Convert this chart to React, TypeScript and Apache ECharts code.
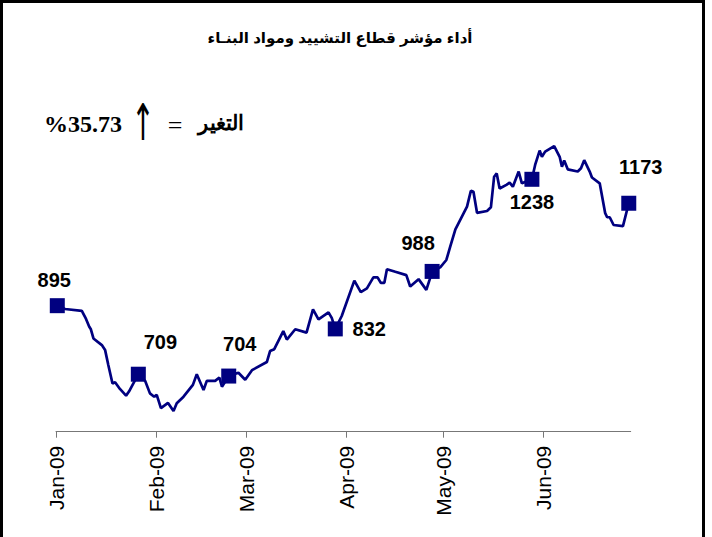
import React, { useEffect, useRef } from "react";
import * as echarts from "echarts";

// ---- data ----
const dayOffsets = [
  0.4, 2.8, 8.0, 9.3, 10.3, 10.8, 11.6, 14.2, 15.2, 16.2,
  17.5, 18.3, 19.8, 21.7, 22.6, 25.5, 27.6, 29.1, 30.4, 31.2,
  32.5, 34.7, 36.4, 37.4, 39.5, 42.4, 43.6, 45.7, 46.7, 49.3,
  50.6, 51.4, 53.5, 56.5, 58.6, 60.7, 65.3, 66.3, 67.6, 70.4,
  71.5, 74.1, 77.6, 79.6, 81.3, 84.4, 85.4, 86.5, 88.5, 92.4,
  94.4, 96.3, 98.3, 99.6, 100.6, 101.7, 102.5, 105.1, 108.5, 109.7,
  112.3, 114.7, 115.7, 116.5, 119.0, 120.9, 122.1, 123.7, 127.3, 128.5,
  129.3, 130.4, 133.5, 134.7, 135.7, 136.5, 137.4, 139.5, 140.5, 141.5,
  143.3, 144.3, 147.4, 148.4, 149.8, 150.5, 151.5, 154.3, 156.0, 156.7,
  157.4, 158.5, 161.6, 162.6, 163.6, 165.3, 166.0, 168.4, 170.1, 170.7,
  171.5, 172.7, 175.6, 177.4,
];
const indexValues = [
  895, 886, 881, 859, 838, 831, 806, 788, 775, 734,
  684, 687, 669, 651, 662, 709, 691, 657, 648, 653,
  617, 631, 609, 630, 648, 680, 709, 666, 691, 691,
  700, 675, 704, 713, 694, 720, 742, 772, 777, 826,
  803, 831, 822, 885, 858, 877, 862, 832, 867, 963,
  932, 942, 972, 972, 957, 957, 994, 987, 978, 947,
  967, 938, 965, 988, 999, 1019, 1055, 1102, 1164, 1207,
  1204, 1147, 1152, 1162, 1245, 1254, 1213, 1223, 1229, 1218,
  1259, 1227, 1238, 1277, 1316, 1299, 1313, 1328, 1299, 1272,
  1289, 1265, 1259, 1268, 1290, 1259, 1243, 1227, 1146, 1135,
  1135, 1114, 1111, 1173,
];
const markerDays = [0.4, 25.5, 53.5, 86.5, 116.5, 147.4, 177.4];
const markerValues = [895, 709, 704, 832, 988, 1238, 1173];
const monthStartDays = [0, 31, 59, 90, 120, 151];
const monthLabels = ["Jan-09", "Feb-09", "Mar-09", "Apr-09", "May-09", "Jun-09"];
const titleText = "أداء مؤشر قطاع التشييد ومواد البنـاء";
const changeLabel = "التغير";
const changeValue = "%35.73";

// ---- styling (label offsets relative to markers) ----
const labelOffsets = [
  [-3, -26],
  [22, -32],
  [11, -32],
  [34, 0],
  [-14, -28],
  [0, 23],
  [12, -36],
];

const NAVY = "#000080";

export default function App() {
  const ref = useRef<HTMLDivElement>(null);

  useEffect(() => {
    if (!ref.current) return;
    const chart = echarts.init(ref.current, undefined, { renderer: "svg" });

    const lineData = dayOffsets.map((d, i) => [d, indexValues[i]]);
    const markerData = markerDays.map((d, i) => ({
      value: [d, markerValues[i]],
      label: { offset: labelOffsets[i] },
    }));

    chart.setOption({
      animation: false,
      backgroundColor: "#ffffff",
      grid: {
        left: 56,
        right: 81.3,
        top: 119.6,
        bottom: 105.3,
        containLabel: false,
        outerBoundsMode: "none",
      },
      xAxis: {
        type: "value",
        min: 0,
        max: 178,
        splitLine: { show: false },
        axisLine: { show: true, lineStyle: { color: "#777777", width: 1 } },
        axisTick: {
          show: true,
          customValues: monthStartDays,
          length: 6,
          lineStyle: { color: "#777777", width: 1 },
        },
        axisLabel: {
          customValues: monthStartDays,
          rotate: 90,
          margin: 14,
          color: "#000000",
          fontSize: 21,
          fontFamily: "Liberation Sans, Arial, sans-serif",
          formatter: (v: number) => {
            const idx = monthStartDays.indexOf(Math.round(v));
            return idx >= 0 ? monthLabels[idx] : "";
          },
        },
      },
      yAxis: {
        type: "value",
        min: 553,
        max: 1400,
        show: false,
        splitLine: { show: false },
      },
      series: [
        {
          type: "line",
          data: lineData,
          symbol: "none",
          lineStyle: { color: NAVY, width: 2.7, opacity: 1 },
          itemStyle: { color: NAVY },
          silent: true,
          clip: false,
        },
        {
          type: "scatter",
          data: markerData,
          symbol: "rect",
          symbolSize: 15,
          itemStyle: { color: NAVY, opacity: 1 },
          clip: false,
          label: {
            show: true,
            position: "inside",
            align: "center",
            verticalAlign: "middle",
            color: "#000000",
            opacity: 1,
            fontSize: 20,
            fontWeight: "bold",
            fontFamily: "Liberation Sans, Arial, sans-serif",
            formatter: (p: any) => String(p.value[1]),
          },
        },
      ],
      graphic: [
        {
          type: "rect",
          shape: { x: 1.5, y: 1.5, width: 702, height: 560 },
          style: { fill: "none", stroke: "#000000", lineWidth: 3 },
          silent: true,
        },
        {
          type: "text",
          x: 340,
          y: 37,
          style: {
            text: titleText,
            align: "center",
            verticalAlign: "middle",
            fill: "#000000",
            font: "bold 15px 'Liberation Sans', 'DejaVu Sans', sans-serif",
          },
        },
        {
          type: "text",
          x: 83,
          y: 124,
          style: {
            text: changeValue,
            align: "center",
            verticalAlign: "middle",
            fill: "#000000",
            font: "bold 24px 'Liberation Serif', serif",
          },
        },
        {
          type: "text",
          x: 143,
          y: 123,
          scaleY: 1.8,
          style: {
            text: "↑",
            align: "center",
            verticalAlign: "middle",
            fill: "#000000",
            font: "28px 'DejaVu Sans', sans-serif",
          },
        },
        {
          type: "text",
          x: 175,
          y: 125,
          style: {
            text: "=",
            align: "center",
            verticalAlign: "middle",
            fill: "#000000",
            font: "26px 'Liberation Serif', serif",
          },
        },
        {
          type: "text",
          x: 221,
          y: 123,
          style: {
            text: changeLabel,
            align: "center",
            verticalAlign: "middle",
            fill: "#000000",
            font: "bold 21px 'Liberation Serif', 'DejaVu Serif', serif",
          },
        },
      ],
    });

    return () => chart.dispose();
  }, []);

  return (
    <div
      ref={ref}
      style={{ position: "absolute", left: 0, top: 0, width: 712, height: 537 }}
    />
  );
}
